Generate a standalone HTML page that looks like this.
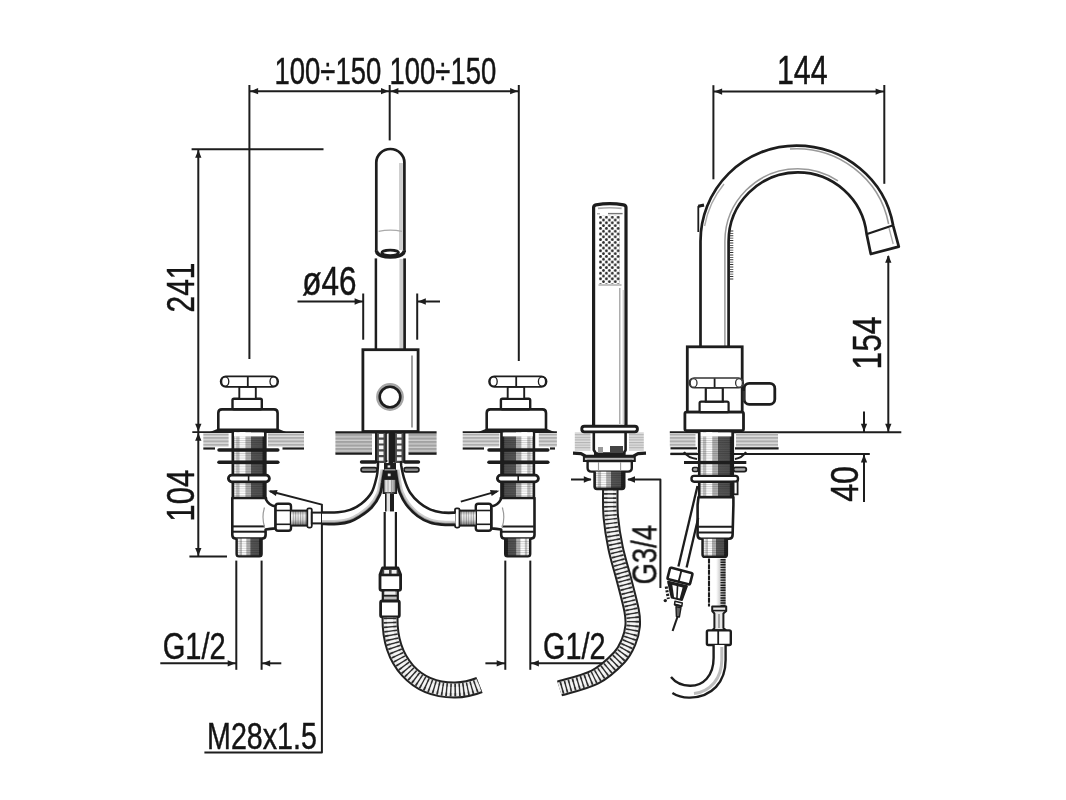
<!DOCTYPE html>
<html lang="en"><head><meta charset="utf-8"><title>Bath mixer technical drawing</title>
<style>
html,body{margin:0;padding:0;background:#fff;}
body{width:1066px;height:800px;overflow:hidden;}
svg{display:block;}
svg text{font-family:"Liberation Sans",sans-serif;fill:#141414;stroke:#141414;stroke-width:0.45px;}
</style></head><body>
<svg width="1066" height="800" viewBox="0 0 1066 800">
<rect width="1066" height="800" fill="#fff"/>

<defs>
<pattern id="thrv" width="2.4" height="4" patternUnits="userSpaceOnUse">
  <rect x="0" width="1" height="4" fill="#000" fill-opacity="0.3"/>
</pattern>
<pattern id="thr2" width="4" height="4.4" patternUnits="userSpaceOnUse">
  <rect y="0" width="4" height="2" fill="#000" fill-opacity="0.45"/>
</pattern>
</defs>


<defs>
<pattern id="hatch" width="4" height="3.4" patternUnits="userSpaceOnUse" patternTransform="translate(0,433.6)">
  <rect width="4" height="3.4" fill="#dedede"/>
  <rect y="0" width="4" height="2" fill="#aeaeae"/>
</pattern>
<pattern id="hatchD" width="4" height="3.5" patternUnits="userSpaceOnUse" patternTransform="translate(0,434)">
  <rect width="4" height="3.5" fill="#cfcfcf"/>
  <rect y="0" width="4" height="2.2" fill="#a2a2a2"/>
</pattern>
<pattern id="hatchL" width="4" height="2.6" patternUnits="userSpaceOnUse">
  <rect width="4" height="2.6" fill="#dcdcdc"/>
  <rect y="0" width="4" height="1.1" fill="#b4b4b4"/>
</pattern>
<pattern id="thr" width="4" height="2.2" patternUnits="userSpaceOnUse">
  <rect y="0" width="4" height="0.9" fill="#000" fill-opacity="0.2"/>
</pattern>
<pattern id="dots" width="5.9" height="5.6" patternUnits="userSpaceOnUse" patternTransform="translate(599,215.8)">
  <rect width="5.9" height="5.6" fill="#fff"/>
  <circle cx="1.5" cy="1.4" r="1.42" fill="#2a2a2a"/>
  <circle cx="4.45" cy="4.2" r="1.42" fill="#2a2a2a"/>
</pattern>
<linearGradient id="stemL" x1="0" x2="1" y1="0" y2="0">
  <stop offset="0" stop-color="#444"/><stop offset="0.07" stop-color="#f0f0f0"/>
  <stop offset="0.12" stop-color="#efefef"/><stop offset="0.14" stop-color="#c2c2c2"/>
  <stop offset="0.21" stop-color="#c2c2c2"/><stop offset="0.24" stop-color="#fff"/>
  <stop offset="0.38" stop-color="#fff"/><stop offset="0.41" stop-color="#b2b2b2"/>
  <stop offset="0.545" stop-color="#b2b2b2"/><stop offset="0.565" stop-color="#565656"/>
  <stop offset="0.88" stop-color="#505050"/><stop offset="0.9" stop-color="#222"/>
  <stop offset="1" stop-color="#222"/>
</linearGradient>
<linearGradient id="stemR" x1="1" x2="0" y1="0" y2="0">
  <stop offset="0" stop-color="#444"/><stop offset="0.07" stop-color="#f0f0f0"/>
  <stop offset="0.12" stop-color="#efefef"/><stop offset="0.14" stop-color="#c2c2c2"/>
  <stop offset="0.21" stop-color="#c2c2c2"/><stop offset="0.24" stop-color="#fff"/>
  <stop offset="0.38" stop-color="#fff"/><stop offset="0.41" stop-color="#b2b2b2"/>
  <stop offset="0.545" stop-color="#b2b2b2"/><stop offset="0.565" stop-color="#565656"/>
  <stop offset="0.88" stop-color="#505050"/><stop offset="0.9" stop-color="#222"/>
  <stop offset="1" stop-color="#222"/>
</linearGradient>
<linearGradient id="braid" x1="0" x2="1" y1="0" y2="0"><stop offset="0" stop-color="#fff"/><stop offset="0.45" stop-color="#fff"/><stop offset="0.8" stop-color="#b5b5b5"/><stop offset="1" stop-color="#888"/></linearGradient>
<linearGradient id="cyl" x1="0" x2="1" y1="0" y2="0">
  <stop offset="0" stop-color="#999"/><stop offset="0.3" stop-color="#f4f4f4"/>
  <stop offset="0.6" stop-color="#ddd"/><stop offset="1" stop-color="#666"/>
</linearGradient>
<linearGradient id="cylv" x1="0" x2="0" y1="0" y2="1">
  <stop offset="0" stop-color="#999"/><stop offset="0.3" stop-color="#f4f4f4"/>
  <stop offset="0.6" stop-color="#ddd"/><stop offset="1" stop-color="#777"/>
</linearGradient>
</defs>

<line x1="249.4" y1="85" x2="249.4" y2="359" stroke="#1d1d1d" stroke-width="2.0" stroke-linecap="butt" />
<line x1="389.7" y1="85" x2="389.7" y2="140.4" stroke="#1d1d1d" stroke-width="2.0" stroke-linecap="butt" />
<line x1="518.8" y1="85" x2="518.8" y2="361" stroke="#1d1d1d" stroke-width="2.0" stroke-linecap="butt" />
<line x1="249.4" y1="91.2" x2="518.8" y2="91.2" stroke="#1d1d1d" stroke-width="2.0" stroke-linecap="butt" />
<polygon points="250.3,91.2 258.1,88.05 258.1,94.35000000000001" fill="#1d1d1d"/>
<polygon points="388.8,91.2 381.0,88.05 381.0,94.35000000000001" fill="#1d1d1d"/>
<polygon points="390.6,91.2 398.40000000000003,88.05 398.40000000000003,94.35000000000001" fill="#1d1d1d"/>
<polygon points="517.9,91.2 510.09999999999997,88.05 510.09999999999997,94.35000000000001" fill="#1d1d1d"/>
<line x1="191.6" y1="149.2" x2="323.5" y2="149.2" stroke="#1d1d1d" stroke-width="2.0" stroke-linecap="butt" />
<line x1="198.3" y1="149.2" x2="198.3" y2="556.5" stroke="#1d1d1d" stroke-width="2.0" stroke-linecap="butt" />
<polygon points="198.3,150 195.15,157.8 201.45000000000002,157.8" fill="#1d1d1d"/>
<polygon points="198.3,431.6 195.15,423.8 201.45000000000002,423.8" fill="#1d1d1d"/>
<polygon points="198.3,433 195.15,440.8 201.45000000000002,440.8" fill="#1d1d1d"/>
<polygon points="198.3,555.8 195.15,548.0 201.45000000000002,548.0" fill="#1d1d1d"/>
<line x1="189.4" y1="556.5" x2="227" y2="556.5" stroke="#1d1d1d" stroke-width="2.0" stroke-linecap="butt" />
<line x1="297.5" y1="301.5" x2="363.2" y2="301.5" stroke="#1d1d1d" stroke-width="2.0" stroke-linecap="butt" />
<polygon points="362.4,301.5 354.59999999999997,298.35 354.59999999999997,304.65" fill="#1d1d1d"/>
<line x1="363.2" y1="293.5" x2="363.2" y2="339.7" stroke="#1d1d1d" stroke-width="2.0" stroke-linecap="butt" />
<line x1="417.2" y1="293.5" x2="417.2" y2="339.7" stroke="#1d1d1d" stroke-width="2.0" stroke-linecap="butt" />
<line x1="417.2" y1="301.5" x2="440" y2="301.5" stroke="#1d1d1d" stroke-width="2.0" stroke-linecap="butt" />
<polygon points="418,301.5 425.8,298.35 425.8,304.65" fill="#1d1d1d"/>
<line x1="236.3" y1="560.6" x2="236.3" y2="669.8" stroke="#1d1d1d" stroke-width="2.0" stroke-linecap="butt" />
<line x1="261.6" y1="560.6" x2="261.6" y2="669.8" stroke="#1d1d1d" stroke-width="2.0" stroke-linecap="butt" />
<line x1="160.3" y1="663.3" x2="236.3" y2="663.3" stroke="#1d1d1d" stroke-width="2.0" stroke-linecap="butt" />
<polygon points="235.5,663.3 227.7,660.15 227.7,666.4499999999999" fill="#1d1d1d"/>
<line x1="261.6" y1="663.3" x2="281.3" y2="663.3" stroke="#1d1d1d" stroke-width="2.0" stroke-linecap="butt" />
<polygon points="262.4,663.3 270.2,660.15 270.2,666.4499999999999" fill="#1d1d1d"/>
<path d="M270,491.2 L321.9,504.6 L321.9,752.5 L204.4,752.5" stroke="#1d1d1d" stroke-width="2.0" fill="none" stroke-linejoin="round" />
<polygon points="268.2,490.7 277.6,489.9 275.9,496" fill="#1d1d1d"/>
<line x1="460.8" y1="501.6" x2="497" y2="491.4" stroke="#1d1d1d" stroke-width="2.0" stroke-linecap="butt" />
<polygon points="499.4,490.7 491.7,496 490,489.9" fill="#1d1d1d"/>
<line x1="505.3" y1="560.6" x2="505.3" y2="669.8" stroke="#1d1d1d" stroke-width="2.0" stroke-linecap="butt" />
<line x1="530.3" y1="560.6" x2="530.3" y2="669.8" stroke="#1d1d1d" stroke-width="2.0" stroke-linecap="butt" />
<line x1="485.4" y1="663.3" x2="505.3" y2="663.3" stroke="#1d1d1d" stroke-width="2.0" stroke-linecap="butt" />
<polygon points="504.5,663.3 496.7,660.15 496.7,666.4499999999999" fill="#1d1d1d"/>
<line x1="530.3" y1="663.3" x2="604.6" y2="663.3" stroke="#1d1d1d" stroke-width="2.0" stroke-linecap="butt" />
<polygon points="531.1,663.3 538.9,660.15 538.9,666.4499999999999" fill="#1d1d1d"/>
<line x1="571" y1="479.5" x2="591" y2="479.5" stroke="#1d1d1d" stroke-width="2.0" stroke-linecap="butt" />
<polygon points="591.6,479.5 583.8000000000001,476.35 583.8000000000001,482.65" fill="#1d1d1d"/>
<path d="M628,479.5 L660.4,479.5 L660.4,588" stroke="#1d1d1d" stroke-width="2.0" fill="none" stroke-linejoin="round" />
<polygon points="627.2,479.5 635.0,476.35 635.0,482.65" fill="#1d1d1d"/>
<line x1="713.4" y1="85.2" x2="713.4" y2="179.3" stroke="#1d1d1d" stroke-width="2.0" stroke-linecap="butt" />
<line x1="884.3" y1="85" x2="884.3" y2="183.8" stroke="#1d1d1d" stroke-width="2.0" stroke-linecap="butt" />
<line x1="713.4" y1="91.6" x2="884.3" y2="91.6" stroke="#1d1d1d" stroke-width="2.0" stroke-linecap="butt" />
<polygon points="714.3,91.6 722.0999999999999,88.44999999999999 722.0999999999999,94.75" fill="#1d1d1d"/>
<polygon points="883.4,91.6 875.6,88.44999999999999 875.6,94.75" fill="#1d1d1d"/>
<line x1="888.3" y1="256" x2="888.3" y2="432" stroke="#1d1d1d" stroke-width="2.0" stroke-linecap="butt" />
<polygon points="888.3,255 885.15,262.8 891.4499999999999,262.8" fill="#1d1d1d"/>
<polygon points="888.3,431.6 885.15,423.8 891.4499999999999,423.8" fill="#1d1d1d"/>
<line x1="669.8" y1="432.3" x2="901.3" y2="432.3" stroke="#1d1d1d" stroke-width="2.0" stroke-linecap="butt" />
<line x1="864" y1="411.5" x2="864" y2="432" stroke="#1d1d1d" stroke-width="2.0" stroke-linecap="butt" />
<polygon points="864,431.6 860.85,423.8 867.15,423.8" fill="#1d1d1d"/>
<line x1="670.5" y1="453.9" x2="869.8" y2="453.9" stroke="#1d1d1d" stroke-width="2.0" stroke-linecap="butt" />
<line x1="864" y1="454" x2="864" y2="502" stroke="#1d1d1d" stroke-width="2.0" stroke-linecap="butt" />
<polygon points="864,454.6 860.85,462.40000000000003 867.15,462.40000000000003" fill="#1d1d1d"/>
<rect x="203.3" y="433.2" width="25.3" height="13.6" rx="0" stroke="#1d1d1d" stroke-width="0" fill="url(#hatch)" />
<rect x="268" y="433.2" width="36" height="13.6" rx="0" stroke="#1d1d1d" stroke-width="0" fill="url(#hatch)" />
<line x1="192.3" y1="432.2" x2="304" y2="432.2" stroke="#1d1d1d" stroke-width="1.8" stroke-linecap="butt" />
<line x1="203.3" y1="448.5" x2="215" y2="448.5" stroke="#1d1d1d" stroke-width="2.2" stroke-linecap="butt" />
<line x1="282.5" y1="448.5" x2="304" y2="448.5" stroke="#1d1d1d" stroke-width="2.2" stroke-linecap="butt" />
<rect x="335.4" y="433.2" width="36.6" height="19.6" rx="0" stroke="#1d1d1d" stroke-width="0" fill="url(#hatchD)" />
<rect x="408.5" y="433.2" width="28.1" height="19.6" rx="0" stroke="#1d1d1d" stroke-width="0" fill="url(#hatchD)" />
<line x1="335.4" y1="432.3" x2="436.6" y2="432.3" stroke="#1d1d1d" stroke-width="2.2" stroke-linecap="butt" />
<line x1="335.4" y1="453.6" x2="372" y2="453.6" stroke="#1d1d1d" stroke-width="2.4" stroke-linecap="butt" />
<line x1="408.5" y1="453.6" x2="436.6" y2="453.6" stroke="#1d1d1d" stroke-width="2.4" stroke-linecap="butt" />
<rect x="462.7" y="433.2" width="36.6" height="13.6" rx="0" stroke="#1d1d1d" stroke-width="0" fill="url(#hatch)" />
<rect x="538.8" y="433.2" width="18.1" height="13.6" rx="0" stroke="#1d1d1d" stroke-width="0" fill="url(#hatch)" />
<line x1="462.7" y1="432.2" x2="556.9" y2="432.2" stroke="#1d1d1d" stroke-width="1.8" stroke-linecap="butt" />
<line x1="462.7" y1="448.5" x2="484" y2="448.5" stroke="#1d1d1d" stroke-width="2.2" stroke-linecap="butt" />
<line x1="550" y1="448.5" x2="555" y2="448.5" stroke="#1d1d1d" stroke-width="2.2" stroke-linecap="butt" />
<g>
<rect x="231.8" y="431" width="34.5" height="66.8" rx="0" stroke="#1d1d1d" stroke-width="0" fill="url(#stemL)" />
<rect x="233" y="431" width="32" height="66.8" rx="0" stroke="#1d1d1d" stroke-width="0" fill="url(#thr)" />
<line x1="232.9" y1="431" x2="232.9" y2="498" stroke="#1d1d1d" stroke-width="2.6" stroke-linecap="butt" />
<line x1="265.2" y1="431" x2="265.2" y2="498" stroke="#1d1d1d" stroke-width="2.6" stroke-linecap="butt" />
<rect x="234" y="432.5" width="30" height="3.9" rx="0" stroke="#1d1d1d" stroke-width="0" fill="#fff" />
<line x1="219" y1="449.9" x2="277.8" y2="449.9" stroke="#1d1d1d" stroke-width="3.5" stroke-linecap="round" />
<line x1="219" y1="462.3" x2="277.8" y2="462.3" stroke="#1d1d1d" stroke-width="3.6" stroke-linecap="round" />
<rect x="228.4" y="475.2" width="41.0" height="6.6" rx="3.2" stroke="#1d1d1d" stroke-width="2.8" fill="#fff" />
<line x1="248.6" y1="475.5" x2="248.6" y2="481.6" stroke="#1d1d1d" stroke-width="1.6" stroke-linecap="butt" />
<path d="M232.3,498 L232.3,535 Q232.3,538.6 236,538.6 L262,538.6 Q265.6,538.6 265.6,535 L265.6,529.5 Q270,528.8 275.5,528.4 L275.5,506.4 Q269,505.6 266,499.5 L266,498 Z" stroke="#1d1d1d" stroke-width="2.6" fill="#fff" stroke-linejoin="round" />
<line x1="233" y1="526.4" x2="265" y2="526.4" stroke="#1d1d1d" stroke-width="2" stroke-linecap="butt" />
<line x1="233" y1="531.7" x2="265" y2="531.7" stroke="#1d1d1d" stroke-width="2" stroke-linecap="butt" />
<path d="M264.5,507.5 Q261.5,517 264.5,527" stroke="#999" stroke-width="1.2" fill="none" stroke-linejoin="round" />
<rect x="275.6" y="503.8" width="15.4" height="27.0" rx="2.5" stroke="#1d1d1d" stroke-width="2.4" fill="#fff" />
<line x1="276" y1="510.5" x2="291" y2="510.5" stroke="#1d1d1d" stroke-width="1.6" stroke-linecap="butt" />
<line x1="276" y1="524.3" x2="291" y2="524.3" stroke="#1d1d1d" stroke-width="1.6" stroke-linecap="butt" />
<rect x="291" y="510.6" width="16.6" height="15.0" rx="0" stroke="#1d1d1d" stroke-width="0" fill="url(#cylv)" />
<rect x="292" y="510.6" width="15" height="15" fill="url(#thrv)"/>
<line x1="291" y1="510.6" x2="308" y2="510.6" stroke="#1d1d1d" stroke-width="2" stroke-linecap="butt" />
<line x1="291" y1="525.6" x2="308" y2="525.6" stroke="#1d1d1d" stroke-width="2" stroke-linecap="butt" />
<rect x="307.3" y="508.3" width="4.5" height="19.3" rx="1.5" stroke="#1d1d1d" stroke-width="1.8" fill="#fff" />
<rect x="311.8" y="512.6" width="10.2" height="10.8" rx="0" stroke="#1d1d1d" stroke-width="2" fill="#fff" />
<rect x="236.3" y="538.6" width="25.5" height="17.6" rx="0" stroke="#1d1d1d" stroke-width="0" fill="url(#stemL)" />
<rect x="237" y="540" width="24" height="16" rx="0" stroke="#1d1d1d" stroke-width="0" fill="url(#thr)" />
<path d="M236.6,538.6 L236.6,554 Q236.6,556.4 239,556.4 L259.4,556.4 Q261.6,556.4 261.6,554 L261.6,538.6" stroke="#1d1d1d" stroke-width="2.4" fill="none" stroke-linejoin="round" />
</g>
<g>
<path d="M218.3,429.8 L218.3,413 Q218.3,409.4 222,409.4 L274,409.4 Q277.6,409.4 277.6,413 L277.6,429.8 Z" stroke="#1d1d1d" stroke-width="2.6" fill="#fff" stroke-linejoin="round" />
<polygon points="208,432.8 218.5,428.6 218.5,432.8" fill="#1d1d1d"/>
<polygon points="288,432.8 277.4,428.6 277.4,432.8" fill="#1d1d1d"/>
<line x1="218" y1="430.6" x2="278" y2="430.6" stroke="#1d1d1d" stroke-width="2.6" stroke-linecap="butt" />
<rect x="232.5" y="398.8" width="29.3" height="10.5" rx="1.5" stroke="#1d1d1d" stroke-width="2.4" fill="#fff" />
<rect x="239.3" y="386.8" width="16.5" height="12.0" rx="0" stroke="#1d1d1d" stroke-width="1.9" fill="#fff" />
<rect x="220.6" y="376.3" width="57.6" height="10.5" rx="5.2" stroke="#1d1d1d" stroke-width="1.7" fill="#fff" />
<ellipse cx="225.2" cy="381.5" rx="3.6" ry="4.7" fill="none" stroke="#1d1d1d" stroke-width="1.3"/>
<ellipse cx="273.6" cy="381.5" rx="3.6" ry="4.7" fill="none" stroke="#1d1d1d" stroke-width="1.3"/>
<line x1="247.8" y1="376.8" x2="247.8" y2="386.4" stroke="#1d1d1d" stroke-width="1.8" stroke-linecap="butt" />
</g>
<g transform="translate(766.8,0) scale(-1,1)">
<rect x="231.8" y="431" width="34.5" height="66.8" rx="0" stroke="#1d1d1d" stroke-width="0" fill="url(#stemL)" />
<rect x="233" y="431" width="32" height="66.8" rx="0" stroke="#1d1d1d" stroke-width="0" fill="url(#thr)" />
<line x1="232.9" y1="431" x2="232.9" y2="498" stroke="#1d1d1d" stroke-width="2.6" stroke-linecap="butt" />
<line x1="265.2" y1="431" x2="265.2" y2="498" stroke="#1d1d1d" stroke-width="2.6" stroke-linecap="butt" />
<rect x="234" y="432.5" width="30" height="3.9" rx="0" stroke="#1d1d1d" stroke-width="0" fill="#fff" />
<line x1="219" y1="449.9" x2="277.8" y2="449.9" stroke="#1d1d1d" stroke-width="3.5" stroke-linecap="round" />
<line x1="219" y1="462.3" x2="277.8" y2="462.3" stroke="#1d1d1d" stroke-width="3.6" stroke-linecap="round" />
<rect x="228.4" y="475.2" width="41.0" height="6.6" rx="3.2" stroke="#1d1d1d" stroke-width="2.8" fill="#fff" />
<line x1="248.6" y1="475.5" x2="248.6" y2="481.6" stroke="#1d1d1d" stroke-width="1.6" stroke-linecap="butt" />
<path d="M232.3,498 L232.3,535 Q232.3,538.6 236,538.6 L262,538.6 Q265.6,538.6 265.6,535 L265.6,529.5 Q270,528.8 275.5,528.4 L275.5,506.4 Q269,505.6 266,499.5 L266,498 Z" stroke="#1d1d1d" stroke-width="2.6" fill="#fff" stroke-linejoin="round" />
<line x1="233" y1="526.4" x2="265" y2="526.4" stroke="#1d1d1d" stroke-width="2" stroke-linecap="butt" />
<line x1="233" y1="531.7" x2="265" y2="531.7" stroke="#1d1d1d" stroke-width="2" stroke-linecap="butt" />
<path d="M264.5,507.5 Q261.5,517 264.5,527" stroke="#999" stroke-width="1.2" fill="none" stroke-linejoin="round" />
<rect x="275.6" y="503.8" width="15.4" height="27.0" rx="2.5" stroke="#1d1d1d" stroke-width="2.4" fill="#fff" />
<line x1="276" y1="510.5" x2="291" y2="510.5" stroke="#1d1d1d" stroke-width="1.6" stroke-linecap="butt" />
<line x1="276" y1="524.3" x2="291" y2="524.3" stroke="#1d1d1d" stroke-width="1.6" stroke-linecap="butt" />
<rect x="291" y="510.6" width="16.6" height="15.0" rx="0" stroke="#1d1d1d" stroke-width="0" fill="url(#cylv)" />
<rect x="292" y="510.6" width="15" height="15" fill="url(#thrv)"/>
<line x1="291" y1="510.6" x2="308" y2="510.6" stroke="#1d1d1d" stroke-width="2" stroke-linecap="butt" />
<line x1="291" y1="525.6" x2="308" y2="525.6" stroke="#1d1d1d" stroke-width="2" stroke-linecap="butt" />
<rect x="307.3" y="508.3" width="4.5" height="19.3" rx="1.5" stroke="#1d1d1d" stroke-width="1.8" fill="#fff" />
<rect x="311.8" y="512.6" width="10.2" height="10.8" rx="0" stroke="#1d1d1d" stroke-width="2" fill="#fff" />
<rect x="236.3" y="538.6" width="25.5" height="17.6" rx="0" stroke="#1d1d1d" stroke-width="0" fill="url(#stemL)" />
<rect x="237" y="540" width="24" height="16" rx="0" stroke="#1d1d1d" stroke-width="0" fill="url(#thr)" />
<path d="M236.6,538.6 L236.6,554 Q236.6,556.4 239,556.4 L259.4,556.4 Q261.6,556.4 261.6,554 L261.6,538.6" stroke="#1d1d1d" stroke-width="2.4" fill="none" stroke-linejoin="round" />
</g>
<g transform="translate(268.4,0)">
<path d="M218.3,429.8 L218.3,413 Q218.3,409.4 222,409.4 L274,409.4 Q277.6,409.4 277.6,413 L277.6,429.8 Z" stroke="#1d1d1d" stroke-width="2.6" fill="#fff" stroke-linejoin="round" />
<polygon points="208,432.8 218.5,428.6 218.5,432.8" fill="#1d1d1d"/>
<polygon points="288,432.8 277.4,428.6 277.4,432.8" fill="#1d1d1d"/>
<line x1="218" y1="430.6" x2="278" y2="430.6" stroke="#1d1d1d" stroke-width="2.6" stroke-linecap="butt" />
<rect x="232.5" y="398.8" width="29.3" height="10.5" rx="1.5" stroke="#1d1d1d" stroke-width="2.4" fill="#fff" />
<rect x="239.3" y="386.8" width="16.5" height="12.0" rx="0" stroke="#1d1d1d" stroke-width="1.9" fill="#fff" />
<rect x="220.6" y="376.3" width="57.6" height="10.5" rx="5.2" stroke="#1d1d1d" stroke-width="1.7" fill="#fff" />
<ellipse cx="225.2" cy="381.5" rx="3.6" ry="4.7" fill="none" stroke="#1d1d1d" stroke-width="1.3"/>
<ellipse cx="273.6" cy="381.5" rx="3.6" ry="4.7" fill="none" stroke="#1d1d1d" stroke-width="1.3"/>
<line x1="247.8" y1="376.8" x2="247.8" y2="386.4" stroke="#1d1d1d" stroke-width="1.8" stroke-linecap="butt" />
</g>
<rect x="376" y="432.5" width="10.4" height="30.5" rx="0" stroke="#1d1d1d" stroke-width="0" fill="#4a4a4a" />
<path d="M381.2,434 L381.2,462" stroke="#f6f6f6" stroke-width="4.6" stroke-dasharray="3.6 2.2" fill="none"/>
<line x1="376" y1="432.5" x2="376" y2="462" stroke="#1d1d1d" stroke-width="2" stroke-linecap="butt" />
<line x1="386.4" y1="432.5" x2="386.4" y2="462" stroke="#1d1d1d" stroke-width="2" stroke-linecap="butt" />
<rect x="394" y="432.5" width="10.4" height="30.5" rx="0" stroke="#1d1d1d" stroke-width="0" fill="#4a4a4a" />
<path d="M399.2,434 L399.2,462" stroke="#f6f6f6" stroke-width="4.6" stroke-dasharray="3.6 2.2" fill="none"/>
<line x1="394" y1="432.5" x2="394" y2="462" stroke="#1d1d1d" stroke-width="2" stroke-linecap="butt" />
<line x1="404.4" y1="432.5" x2="404.4" y2="462" stroke="#1d1d1d" stroke-width="2" stroke-linecap="butt" />
<rect x="388.6" y="432.5" width="5.0" height="41.5" rx="0" stroke="#1d1d1d" stroke-width="0" fill="#1d1d1d" />
<line x1="387.4" y1="434" x2="387.4" y2="460" stroke="#eee" stroke-width="1.1" stroke-linecap="butt" />
<line x1="361.5" y1="462" x2="375.5" y2="462" stroke="#1d1d1d" stroke-width="3.4" stroke-linecap="round" />
<line x1="405" y1="462" x2="418.5" y2="462" stroke="#1d1d1d" stroke-width="3.4" stroke-linecap="round" />
<rect x="361" y="467.6" width="16" height="4.3" rx="2.1" stroke="#1d1d1d" stroke-width="1.6" fill="#8a8a8a" />
<rect x="404" y="467.6" width="15" height="4.3" rx="2.1" stroke="#1d1d1d" stroke-width="1.6" fill="#8a8a8a" />
<line x1="377" y1="469.7" x2="404" y2="469.7" stroke="#888" stroke-width="1.2" stroke-linecap="butt" />
<clipPath id="tcl"><path d="M378.1,461 C378.1,461.8 378.1,463.4 377.9,466 C377.7,468.6 377.8,472.2 376.7,476.6 C375.6,481.0 374.2,488.0 371.6,492.5 C369.0,497.0 364.9,500.9 361.3,503.8 C357.7,506.7 353.9,508.5 350,509.9 C346.1,511.3 342.7,511.9 338,512.3 C333.3,512.7 324.7,512.5 322,512.5 L322,524 C324.7,524.0 333.3,524.2 338,523.8 C342.7,523.4 346.4,522.8 350,521.6 C353.6,520.5 355.8,519.2 359.4,516.9 C363.0,514.5 368.2,511.2 371.6,507.5 C375.0,503.8 378.2,498.6 380,494.4 C381.8,490.2 381.6,486.3 382.4,482.2 C383.1,478.1 384.1,472.0 384.5,470 Z"/></clipPath>
<path d="M378.1,461 C378.1,461.8 378.1,463.4 377.9,466 C377.7,468.6 377.8,472.2 376.7,476.6 C375.6,481.0 374.2,488.0 371.6,492.5 C369.0,497.0 364.9,500.9 361.3,503.8 C357.7,506.7 353.9,508.5 350,509.9 C346.1,511.3 342.7,511.9 338,512.3 C333.3,512.7 324.7,512.5 322,512.5 L322,524 C324.7,524.0 333.3,524.2 338,523.8 C342.7,523.4 346.4,522.8 350,521.6 C353.6,520.5 355.8,519.2 359.4,516.9 C363.0,514.5 368.2,511.2 371.6,507.5 C375.0,503.8 378.2,498.6 380,494.4 C381.8,490.2 381.6,486.3 382.4,482.2 C383.1,478.1 384.1,472.0 384.5,470 Z" fill="#fff" stroke="none"/>
<g clip-path="url(#tcl)"><path d="M384.5,470 C384.1,472.0 383.1,478.1 382.4,482.2 C381.6,486.3 381.8,490.2 380,494.4 C378.2,498.6 375.0,503.8 371.6,507.5 C368.2,511.2 363.0,514.5 359.4,516.9 C355.8,519.2 353.6,520.5 350,521.6 C346.4,522.8 342.7,523.4 338,523.8 C333.3,524.2 324.7,524.0 322,524" fill="none" stroke="#cdcdcd" stroke-width="8"/><path d="M384.5,470 C384.1,472.0 383.1,478.1 382.4,482.2 C381.6,486.3 381.8,490.2 380,494.4 C378.2,498.6 375.0,503.8 371.6,507.5 C368.2,511.2 363.0,514.5 359.4,516.9 C355.8,519.2 353.6,520.5 350,521.6 C346.4,522.8 342.7,523.4 338,523.8 C333.3,524.2 324.7,524.0 322,524" fill="none" stroke="#969696" stroke-width="4.4"/></g>
<path d="M378.1,461 C378.1,461.8 378.1,463.4 377.9,466 C377.7,468.6 377.8,472.2 376.7,476.6 C375.6,481.0 374.2,488.0 371.6,492.5 C369.0,497.0 364.9,500.9 361.3,503.8 C357.7,506.7 353.9,508.5 350,509.9 C346.1,511.3 342.7,511.9 338,512.3 C333.3,512.7 324.7,512.5 322,512.5" stroke="#1d1d1d" stroke-width="2.5" fill="none" stroke-linejoin="round" />
<path d="M384.5,470 C384.1,472.0 383.1,478.1 382.4,482.2 C381.6,486.3 381.8,490.2 380,494.4 C378.2,498.6 375.0,503.8 371.6,507.5 C368.2,511.2 363.0,514.5 359.4,516.9 C355.8,519.2 353.6,520.5 350,521.6 C346.4,522.8 342.7,523.4 338,523.8 C333.3,524.2 324.7,524.0 322,524" stroke="#1d1d1d" stroke-width="2.7" fill="none" stroke-linejoin="round" />
<clipPath id="tcr"><path d="M401.1,461 C401.1,461.8 400.8,462.9 401.3,466 C401.9,469.1 402.9,475.0 404.4,479.4 C405.8,483.8 407.5,488.6 410,492.5 C412.5,496.4 416.1,500.0 419.4,502.8 C422.7,505.6 426.2,507.8 430,509.4 C433.8,511.0 437.8,512.0 442,512.6 C446.2,513.2 453.2,512.8 455.5,512.8 L455.5,524.8 C453.2,524.8 446.2,525.0 442,524.6 C437.8,524.2 434.1,523.9 430,522.5 C425.9,521.1 421.4,519.0 417.5,516 C413.6,513.0 409.3,508.6 406.3,504.7 C403.3,500.8 401.2,496.2 399.7,492.5 C398.2,488.8 398.1,485.9 397.4,482.2 C396.7,478.4 395.8,472.0 395.5,470 Z"/></clipPath>
<path d="M401.1,461 C401.1,461.8 400.8,462.9 401.3,466 C401.9,469.1 402.9,475.0 404.4,479.4 C405.8,483.8 407.5,488.6 410,492.5 C412.5,496.4 416.1,500.0 419.4,502.8 C422.7,505.6 426.2,507.8 430,509.4 C433.8,511.0 437.8,512.0 442,512.6 C446.2,513.2 453.2,512.8 455.5,512.8 L455.5,524.8 C453.2,524.8 446.2,525.0 442,524.6 C437.8,524.2 434.1,523.9 430,522.5 C425.9,521.1 421.4,519.0 417.5,516 C413.6,513.0 409.3,508.6 406.3,504.7 C403.3,500.8 401.2,496.2 399.7,492.5 C398.2,488.8 398.1,485.9 397.4,482.2 C396.7,478.4 395.8,472.0 395.5,470 Z" fill="#fff" stroke="none"/>
<g clip-path="url(#tcr)"><path d="M395.5,470 C395.8,472.0 396.7,478.4 397.4,482.2 C398.1,485.9 398.2,488.8 399.7,492.5 C401.2,496.2 403.3,500.8 406.3,504.7 C409.3,508.6 413.6,513.0 417.5,516 C421.4,519.0 425.9,521.1 430,522.5 C434.1,523.9 437.8,524.2 442,524.6 C446.2,525.0 453.2,524.8 455.5,524.8" fill="none" stroke="#cdcdcd" stroke-width="8"/><path d="M395.5,470 C395.8,472.0 396.7,478.4 397.4,482.2 C398.1,485.9 398.2,488.8 399.7,492.5 C401.2,496.2 403.3,500.8 406.3,504.7 C409.3,508.6 413.6,513.0 417.5,516 C421.4,519.0 425.9,521.1 430,522.5 C434.1,523.9 437.8,524.2 442,524.6 C446.2,525.0 453.2,524.8 455.5,524.8" fill="none" stroke="#969696" stroke-width="4.4"/></g>
<path d="M401.1,461 C401.1,461.8 400.8,462.9 401.3,466 C401.9,469.1 402.9,475.0 404.4,479.4 C405.8,483.8 407.5,488.6 410,492.5 C412.5,496.4 416.1,500.0 419.4,502.8 C422.7,505.6 426.2,507.8 430,509.4 C433.8,511.0 437.8,512.0 442,512.6 C446.2,513.2 453.2,512.8 455.5,512.8" stroke="#1d1d1d" stroke-width="2.5" fill="none" stroke-linejoin="round" />
<path d="M395.5,470 C395.8,472.0 396.7,478.4 397.4,482.2 C398.1,485.9 398.2,488.8 399.7,492.5 C401.2,496.2 403.3,500.8 406.3,504.7 C409.3,508.6 413.6,513.0 417.5,516 C421.4,519.0 425.9,521.1 430,522.5 C434.1,523.9 437.8,524.2 442,524.6 C446.2,525.0 453.2,524.8 455.5,524.8" stroke="#1d1d1d" stroke-width="2.7" fill="none" stroke-linejoin="round" />
<rect x="384" y="463" width="12" height="16.5" rx="0" stroke="#1d1d1d" stroke-width="0" fill="#1d1d1d" />
<rect x="387.6" y="465.4" width="2.6" height="2.2" rx="0" stroke="#1d1d1d" stroke-width="0" fill="#eee" />
<rect x="387.8" y="473.6" width="2.8" height="2.6" rx="0" stroke="#1d1d1d" stroke-width="0" fill="#eee" />
<line x1="384.5" y1="469.8" x2="395.5" y2="469.8" stroke="#999" stroke-width="1.4" stroke-linecap="butt" />
<rect x="383.5" y="479" width="12.7" height="14.1" rx="0" stroke="#1d1d1d" stroke-width="1.8" fill="url(#cyl)" />
<line x1="388" y1="480" x2="388" y2="492.5" stroke="#999" stroke-width="1" stroke-linecap="butt" />
<line x1="391.6" y1="480" x2="391.6" y2="492.5" stroke="#999" stroke-width="1" stroke-linecap="butt" />
<rect x="385.6" y="493.3" width="8.2" height="18.1" rx="0" stroke="#1d1d1d" stroke-width="0" fill="#e2e2e2" />
<rect x="390" y="493.3" width="4" height="18.1" rx="0" stroke="#1d1d1d" stroke-width="0" fill="#1d1d1d" />
<line x1="385.8" y1="493.3" x2="385.8" y2="511.4" stroke="#1d1d1d" stroke-width="1.6" stroke-linecap="butt" />
<rect x="384.3" y="512" width="12.0" height="56" rx="0" stroke="#1d1d1d" stroke-width="0" fill="#fff" />
<line x1="384.7" y1="512" x2="384.7" y2="568" stroke="#1d1d1d" stroke-width="2.2" stroke-linecap="butt" />
<line x1="395.9" y1="512" x2="395.9" y2="568" stroke="#1d1d1d" stroke-width="2.2" stroke-linecap="butt" />
<path d="M382.5,568 L398,568 L400.6,574.5 L400.6,588.5 Q400.6,590.4 398.6,590.4 L382,590.4 Q380,590.4 380,588.5 L380,574.5 Z" stroke="#1d1d1d" stroke-width="2.8" fill="#fff" stroke-linejoin="round" />
<path d="M382.8,568.6 L397.8,568.6 L400,574.6 L380.6,574.6 Z" stroke="#1d1d1d" stroke-width="1.5" fill="#444" stroke-linejoin="round" />
<rect x="384.2" y="570" width="4.8" height="3.6" rx="0" stroke="#1d1d1d" stroke-width="0" fill="#f2f2f2" />
<rect x="391.6" y="570" width="5.0" height="3.6" rx="0" stroke="#1d1d1d" stroke-width="0" fill="#f2f2f2" />
<line x1="380" y1="575.2" x2="400.6" y2="575.2" stroke="#1d1d1d" stroke-width="2.2" stroke-linecap="butt" />
<rect x="382.8" y="590.4" width="15.0" height="10.6" rx="0" stroke="#1d1d1d" stroke-width="2.2" fill="#bdbdbd" />
<line x1="383" y1="595.7" x2="397.6" y2="595.7" stroke="#1d1d1d" stroke-width="1.8" stroke-linecap="butt" />
<rect x="385" y="591.6" width="10" height="2.8" rx="0" stroke="#1d1d1d" stroke-width="0" fill="#eee" />
<rect x="380.6" y="601" width="18.7" height="15.8" rx="1.5" stroke="#1d1d1d" stroke-width="2.8" fill="#fff" />
<path d="M376.3,252 L376.3,162.6 A14.05,13.6 0 0 1 404.4,162.6 L404.4,252" stroke="#1d1d1d" stroke-width="2.7" fill="#fff" stroke-linejoin="round" />
<rect x="399" y="163" width="3.9" height="87" rx="0" stroke="#1d1d1d" stroke-width="0" fill="#cfcfcf" />
<path d="M376.3,250.5 Q377,257 390.4,257 Q403.8,257 404.4,250.5" stroke="#1d1d1d" stroke-width="3.4" fill="#fff" stroke-linejoin="round" />
<ellipse cx="390.2" cy="252.8" rx="8.4" ry="2.7" fill="#fff" stroke="#1d1d1d" stroke-width="2.6"/>
<path d="M378.6,231.4 Q390.4,228.8 402,231.4" stroke="#aaa" stroke-width="1.4" fill="none" stroke-linejoin="round" />
<rect x="399.4" y="259" width="3.8" height="90" rx="0" stroke="#1d1d1d" stroke-width="0" fill="#cfcfcf" />
<line x1="375.9" y1="258.4" x2="375.9" y2="349.6" stroke="#1d1d1d" stroke-width="2.5" stroke-linecap="butt" />
<line x1="404.6" y1="258.4" x2="404.6" y2="349.6" stroke="#1d1d1d" stroke-width="2.7" stroke-linecap="butt" />
<rect x="362.9" y="349.7" width="55.2" height="81.8" rx="0" stroke="#1d1d1d" stroke-width="2.8" fill="#fff" />
<line x1="412" y1="355.5" x2="412" y2="427.5" stroke="#888" stroke-width="1.6" stroke-linecap="butt" />
<circle cx="390" cy="397" r="12.2" fill="none" stroke="#6a6a6a" stroke-opacity="0.6" stroke-width="3.4"/>
<circle cx="390" cy="397" r="10.3" fill="#fff" stroke="#1d1d1d" stroke-width="2.6"/>
<path d="M390,617.5 C389.5,662 416,690.5 455,690 C466,689.8 472,688 479.5,685" fill="none" stroke="#222" stroke-width="17"/>
<path d="M390,617.5 C389.5,662 416,690.5 455,690 C466,689.8 472,688 479.5,685" fill="none" stroke="#ececec" stroke-width="13"/>
<path d="M390,617.5 C389.5,662 416,690.5 455,690 C466,689.8 472,688 479.5,685" fill="none" stroke="#2e2e2e" stroke-width="13" stroke-dasharray="1.7 2.5"/>
<path d="M390,617.5 C389.5,662 416,690.5 455,690 C466,689.8 472,688 479.5,685" fill="none" stroke="#fff" stroke-opacity="0.5" stroke-width="6" stroke-dasharray="2.9 1.3" stroke-dashoffset="-1.5"/>
<path d="M610.3,489 C610.4,493.7 609.9,507.2 610.8,517 C611.7,526.8 613.4,537.6 615.6,548 C617.8,558.4 621.2,569.0 623.9,579.4 C626.6,589.8 630.1,602.8 631.6,610.6 C633.1,618.4 633.1,621.1 632.6,626.3 C632.1,631.5 630.8,636.7 628.6,641.9 C626.4,647.1 624.8,651.6 619.2,657.5 C613.6,663.4 605.0,671.8 595,677 C585.0,682.2 565.4,686.6 559.5,688.5" fill="none" stroke="#222" stroke-width="16.5"/>
<path d="M610.3,489 C610.4,493.7 609.9,507.2 610.8,517 C611.7,526.8 613.4,537.6 615.6,548 C617.8,558.4 621.2,569.0 623.9,579.4 C626.6,589.8 630.1,602.8 631.6,610.6 C633.1,618.4 633.1,621.1 632.6,626.3 C632.1,631.5 630.8,636.7 628.6,641.9 C626.4,647.1 624.8,651.6 619.2,657.5 C613.6,663.4 605.0,671.8 595,677 C585.0,682.2 565.4,686.6 559.5,688.5" fill="none" stroke="#ececec" stroke-width="12.5"/>
<path d="M610.3,489 C610.4,493.7 609.9,507.2 610.8,517 C611.7,526.8 613.4,537.6 615.6,548 C617.8,558.4 621.2,569.0 623.9,579.4 C626.6,589.8 630.1,602.8 631.6,610.6 C633.1,618.4 633.1,621.1 632.6,626.3 C632.1,631.5 630.8,636.7 628.6,641.9 C626.4,647.1 624.8,651.6 619.2,657.5 C613.6,663.4 605.0,671.8 595,677 C585.0,682.2 565.4,686.6 559.5,688.5" fill="none" stroke="#2e2e2e" stroke-width="12.5" stroke-dasharray="1.7 2.5"/>
<path d="M610.3,489 C610.4,493.7 609.9,507.2 610.8,517 C611.7,526.8 613.4,537.6 615.6,548 C617.8,558.4 621.2,569.0 623.9,579.4 C626.6,589.8 630.1,602.8 631.6,610.6 C633.1,618.4 633.1,621.1 632.6,626.3 C632.1,631.5 630.8,636.7 628.6,641.9 C626.4,647.1 624.8,651.6 619.2,657.5 C613.6,663.4 605.0,671.8 595,677 C585.0,682.2 565.4,686.6 559.5,688.5" fill="none" stroke="#fff" stroke-opacity="0.5" stroke-width="5.5" stroke-dasharray="2.9 1.3" stroke-dashoffset="-1.5"/>
<path d="M593.6,425.5 L593.6,207.6 Q593.6,205.2 596,204.8 Q609.8,202.4 623.6,204.8 Q626,205.2 626,207.6 L626,425.5" stroke="#1d1d1d" stroke-width="3.2" fill="#fff" stroke-linejoin="round" />
<rect x="599" y="215.8" width="21" height="67.8" rx="0" stroke="#1d1d1d" stroke-width="0" fill="url(#dots)" />
<line x1="598.5" y1="285" x2="621.5" y2="285" stroke="#999" stroke-width="1.2" stroke-linecap="butt" />
<path d="M598,208.4 Q609.8,207 621.6,208.4" stroke="#aaa" stroke-width="1.6" fill="none" stroke-linejoin="round" />
<line x1="608" y1="213.6" x2="622.6" y2="213.6" stroke="#777" stroke-width="1.4" stroke-linecap="butt" />
<line x1="597" y1="213.8" x2="600" y2="213.8" stroke="#999" stroke-width="1.2" stroke-linecap="butt" />
<line x1="619.8" y1="288" x2="619.8" y2="424" stroke="#999" stroke-width="1.2" stroke-linecap="butt" />
<line x1="623.2" y1="290" x2="623.2" y2="424" stroke="#bbb" stroke-width="1" stroke-linecap="butt" />
<rect x="574.8" y="432.5" width="15.7" height="18.1" rx="0" stroke="#1d1d1d" stroke-width="0" fill="url(#hatchL)" />
<rect x="629" y="432.5" width="14.8" height="18.1" rx="0" stroke="#1d1d1d" stroke-width="0" fill="url(#hatchL)" />
<path d="M593.8,432 L593.8,450 L596,453.5 L623.6,453.5 L625.6,450 L625.6,432" stroke="#1d1d1d" stroke-width="2.6" fill="#fff" stroke-linejoin="round" />
<rect x="598" y="447" width="5" height="6" rx="0" stroke="#1d1d1d" stroke-width="0" fill="#999" />
<rect x="610" y="446" width="13" height="7.4" rx="0" stroke="#1d1d1d" stroke-width="0" fill="#444" />
<rect x="581.8" y="426.2" width="55.6" height="5.7" rx="2.6" stroke="#1d1d1d" stroke-width="2.9" fill="#fff" />
<path d="M573,453.2 L581,453.6 L586,456.4 L633,456.4 L638,453.6 L646,453.2" stroke="#1d1d1d" stroke-width="3.2" fill="none" stroke-linejoin="round" />
<rect x="594" y="453" width="31.6" height="4" rx="0" stroke="#1d1d1d" stroke-width="0" fill="#1d1d1d" />
<rect x="583.9" y="456.8" width="50.9" height="4.2" rx="0" stroke="#1d1d1d" stroke-width="2" fill="#bbb" />
<path d="M587.6,461 L631.8,461 L631.8,468 Q631.8,471.6 628,471.6 L591.4,471.6 Q587.6,471.6 587.6,468 Z" stroke="#1d1d1d" stroke-width="2.4" fill="#fff" stroke-linejoin="round" />
<line x1="598.5" y1="462" x2="598.5" y2="470.6" stroke="#999" stroke-width="1.1" stroke-linecap="butt" />
<line x1="620.6" y1="462" x2="620.6" y2="470.6" stroke="#999" stroke-width="1.1" stroke-linecap="butt" />
<rect x="594.4" y="471.6" width="29.9" height="17.0" rx="0" stroke="#1d1d1d" stroke-width="0" fill="url(#stemL)" />
<rect x="595" y="472.5" width="29" height="15.5" rx="0" stroke="#1d1d1d" stroke-width="0" fill="url(#thr)" />
<path d="M594.6,471.6 L594.6,486.6 Q594.6,488.9 597,488.9 L622,488.9 Q624.2,488.9 624.2,486.6 L624.2,471.6" stroke="#1d1d1d" stroke-width="2.6" fill="none" stroke-linejoin="round" />
<rect x="669.8" y="433.2" width="25.7" height="13.6" rx="0" stroke="#1d1d1d" stroke-width="0" fill="url(#hatch)" />
<rect x="736" y="433.2" width="42" height="13.6" rx="0" stroke="#1d1d1d" stroke-width="0" fill="url(#hatch)" />
<rect x="698.3" y="431.5" width="35.3" height="65.8" rx="0" stroke="#1d1d1d" stroke-width="0" fill="url(#stemL)" />
<rect x="699" y="431.5" width="34" height="65.8" rx="0" stroke="#1d1d1d" stroke-width="0" fill="url(#thr)" />
<rect x="700.4" y="432.5" width="31.2" height="3.9" rx="0" stroke="#1d1d1d" stroke-width="0" fill="#fff" />
<line x1="699.2" y1="431.5" x2="699.2" y2="497.5" stroke="#1d1d1d" stroke-width="2.6" stroke-linecap="butt" />
<line x1="732.8" y1="431.5" x2="732.8" y2="497.5" stroke="#1d1d1d" stroke-width="2.6" stroke-linecap="butt" />
<line x1="670.5" y1="448.3" x2="697" y2="448.3" stroke="#1d1d1d" stroke-width="2.2" stroke-linecap="butt" />
<line x1="735" y1="448.3" x2="778.6" y2="448.3" stroke="#1d1d1d" stroke-width="2.2" stroke-linecap="butt" />
<line x1="670.5" y1="453.9" x2="697" y2="453.9" stroke="#1d1d1d" stroke-width="2.4" stroke-linecap="butt" />
<path d="M684,452 Q688,458 697,459" stroke="#1d1d1d" stroke-width="2.2" fill="none" stroke-linejoin="round" />
<path d="M746,452 Q742,458 735,459" stroke="#1d1d1d" stroke-width="2.2" fill="none" stroke-linejoin="round" />
<line x1="684" y1="462.5" x2="746.3" y2="462.5" stroke="#1d1d1d" stroke-width="3" stroke-linecap="butt" />
<rect x="733.5" y="467.4" width="12.8" height="4.2" rx="2" stroke="#1d1d1d" stroke-width="1.8" fill="#aaa" />
<rect x="692.5" y="467.6" width="5.5" height="3.8" rx="1.5" stroke="#1d1d1d" stroke-width="1.5" fill="#aaa" />
<rect x="691.5" y="475.9" width="46.5" height="5.8" rx="2.6" stroke="#1d1d1d" stroke-width="2.4" fill="#fff" />
<rect x="733.6" y="481.7" width="4.0" height="12.6" rx="0" stroke="#1d1d1d" stroke-width="1.8" fill="#fff" />
<path d="M698.4,497.3 L697.6,505 L697.6,535 Q697.6,538.7 701,538.7 L729,538.7 Q732.6,538.7 732.6,535 L733.4,505 L733.4,497.3 Z" stroke="#1d1d1d" stroke-width="2.6" fill="#fff" stroke-linejoin="round" />
<line x1="698.4" y1="526.7" x2="732.4" y2="526.7" stroke="#1d1d1d" stroke-width="2" stroke-linecap="butt" />
<line x1="698.4" y1="532.6" x2="732.4" y2="532.6" stroke="#1d1d1d" stroke-width="2" stroke-linecap="butt" />
<rect x="702.3" y="538.8" width="24.7" height="17.8" rx="0" stroke="#1d1d1d" stroke-width="0" fill="url(#stemL)" />
<rect x="703" y="540" width="23.5" height="16" rx="0" stroke="#1d1d1d" stroke-width="0" fill="url(#thr)" />
<path d="M702.5,538.8 L702.5,554.4 Q702.5,556.8 705,556.8 L724.6,556.8 Q726.9,556.8 726.9,554.4 L726.9,538.8" stroke="#1d1d1d" stroke-width="2.4" fill="none" stroke-linejoin="round" />
<rect x="708.4" y="558.6" width="17.2" height="47.8" rx="0" stroke="#1d1d1d" stroke-width="0" fill="url(#braid)" />
<line x1="709" y1="558.6" x2="709" y2="606.4" stroke="#1d1d1d" stroke-width="2.1" stroke-linecap="butt" stroke-dasharray="5 0.6"/>
<path d="M723,559 L723,606.4" stroke="#1d1d1d" stroke-width="5" stroke-dasharray="1.4 1.15" fill="none"/>
<path d="M712.2,606.4 L726.2,606.4 L726.2,611 L723.4,613.5 L723.4,628 L726,630.2 L712.6,630.2 L714.4,628 L714.4,613.5 L712.2,611 Z" stroke="#1d1d1d" stroke-width="2" fill="#e8e8e8" stroke-linejoin="round" />
<line x1="712.4" y1="610.6" x2="726" y2="610.6" stroke="#1d1d1d" stroke-width="1.6" stroke-linecap="butt" />
<line x1="719" y1="614" x2="719" y2="628" stroke="#777" stroke-width="1.2" stroke-linecap="butt" />
<rect x="706.9" y="630.4" width="23.9" height="14.6" rx="1.5" stroke="#1d1d1d" stroke-width="2.4" fill="#fff" />
<line x1="718.2" y1="631" x2="718.2" y2="644.6" stroke="#1d1d1d" stroke-width="1.8" stroke-linecap="butt" />
<path d="M713.6,645 L713.6,658 C713.6,676 703,686 690,685.8 C681,685.6 675,682 671,677 L672.4,693 C678,696.6 684,697.8 690,697.6 C712,697 725.6,682 725.6,660 L725.6,645 Z" stroke="#1d1d1d" stroke-width="0" fill="#fff" stroke-linejoin="round" />
<path d="M713.6,645 L713.6,658 C713.6,676 703,686 690,685.8 C681,685.6 675,682 671,677" stroke="#1d1d1d" stroke-width="2.4" fill="none" stroke-linejoin="round" />
<path d="M725.6,645 L725.6,660 C725.6,682 712,697 690,697.6 C684,697.8 678,696.6 672.4,693" stroke="#1d1d1d" stroke-width="2.4" fill="none" stroke-linejoin="round" />
<path d="M721.8,647 L721.8,660 C721.6,678 711,691.5 694,693.6" stroke="#bdbdbd" stroke-width="3" fill="none" stroke-linejoin="round" />
<line x1="697.5" y1="486" x2="678.4" y2="566.4" stroke="#1d1d1d" stroke-width="2.3" stroke-linecap="butt" />
<line x1="698.2" y1="518" x2="686.6" y2="567.6" stroke="#1d1d1d" stroke-width="2.3" stroke-linecap="butt" />
<g transform="translate(680,576.1) rotate(14.3)">
<rect x="-11.6" y="-5.9" width="23.2" height="11.8" rx="1.4" stroke="#1d1d1d" stroke-width="2.6" fill="#fff" />
<line x1="0" y1="-5.8" x2="0" y2="5.8" stroke="#1d1d1d" stroke-width="1.9" stroke-linecap="butt" />
</g>
<polygon points="668,581.6 671.6,597.6 682,600 687,586.2" fill="#fff" stroke="#1d1d1d" stroke-width="1.8" stroke-linejoin="round"/>
<polygon points="668,581.6 672,582.6 674.2,598.2 671.6,597.6" fill="#1d1d1d"/>
<polygon points="683.2,585.3 687,586.2 682,600 679.4,599.4" fill="#1d1d1d"/>
<line x1="677.6" y1="584.5" x2="676.9" y2="598.8" stroke="#1d1d1d" stroke-width="1.6" stroke-linecap="butt" />
<line x1="668" y1="582.6" x2="687" y2="587.2" stroke="#1d1d1d" stroke-width="2.6" stroke-linecap="butt" />
<line x1="666.2" y1="586.5" x2="668.4" y2="599" stroke="#1d1d1d" stroke-width="3" stroke-linecap="butt" stroke-dasharray="2.2 1.5"/>
<circle cx="665.3" cy="600.6" r="1.7" fill="#1d1d1d"/>
<polygon points="675,601.2 682.3,603 681.8,606.2 674.5,604.5" fill="#fff" stroke="#1d1d1d" stroke-width="1.5" stroke-linejoin="round"/>
<line x1="674.6" y1="604.6" x2="681.8" y2="606.3" stroke="#1d1d1d" stroke-width="2.2" stroke-linecap="butt" />
<polygon points="676,606.6 681,607.7 679.4,617 676.4,616.5" fill="#666" stroke="#1d1d1d" stroke-width="1.4" stroke-linejoin="round"/>
<line x1="677.6" y1="616.5" x2="672.6" y2="631" stroke="#1d1d1d" stroke-width="2.1" stroke-linecap="butt" />
<path d="M698.3,232 L698.3,206.6 L704,205.3" stroke="#1d1d1d" stroke-width="1.8" fill="none" stroke-linejoin="round" />
<line x1="698.3" y1="206.3" x2="704" y2="205" stroke="#1d1d1d" stroke-width="3" stroke-linecap="butt" />
<path d="M700.5,347 L700.5,241.2 A96,95.6 0 0 1 796.5,145.6 A98,95.6 0 0 1 893.1,225.3 L898.8,246.6 L870.8,254 L866.6,233.9 A69.2,69.2 0 0 0 797.8,172.4 A69.2,69.2 0 0 0 728.6,241.6 L728.6,347 Z" stroke="#1d1d1d" stroke-width="0" fill="#fff" stroke-linejoin="round" />
<path d="M700.5,347 L700.5,241.2 A96,95.6 0 0 1 796.5,145.6 A98,95.6 0 0 1 893.1,225.3 L898.8,246.6 L870.8,254 L866.6,233.9 A69.2,69.2 0 0 0 797.8,172.4 A69.2,69.2 0 0 0 728.6,241.6 L728.6,347" stroke="#1d1d1d" stroke-width="2.7" fill="none" stroke-linejoin="round" />
<line x1="866.4" y1="234.3" x2="893.2" y2="225.2" stroke="#1d1d1d" stroke-width="2.2" stroke-linecap="butt" />
<path d="M724.9,346 L724.9,241.6 A72.9,72.9 0 0 1 797.8,168.7 A72.9,72.9 0 0 1 838,180.8" stroke="#9a9a9a" stroke-width="1.5" fill="none" stroke-linejoin="round" />
<path d="M704.6,226 A92.6,92.6 0 0 1 724,184" stroke="#aaa" stroke-width="1.4" fill="none" stroke-linejoin="round" />
<path d="M790,149 A94,92 0 0 1 888.6,224" stroke="#9a9a9a" stroke-width="1.6" fill="none" stroke-linejoin="round" />
<line x1="889" y1="228" x2="893.2" y2="244" stroke="#aaa" stroke-width="1.3" stroke-linecap="butt" />
<path d="M731.6,230.5 L731.6,281" stroke="#333" stroke-width="3.4" stroke-dasharray="0.9 1.5" fill="none"/>
<rect x="687.3" y="346.8" width="54.9" height="65.4" rx="0" stroke="#1d1d1d" stroke-width="2.8" fill="#fff" />
<rect x="684.9" y="412.2" width="58.6" height="18.4" rx="1.5" stroke="#1d1d1d" stroke-width="2.8" fill="#fff" />
<rect x="699.6" y="401.6" width="29.0" height="10.6" rx="1.5" stroke="#1d1d1d" stroke-width="2.2" fill="#fff" />
<rect x="705.8" y="387.6" width="17.0" height="14.0" rx="0" stroke="#1d1d1d" stroke-width="2.2" fill="#fff" />
<rect x="689.3" y="378" width="54.0" height="9.8" rx="4.9" stroke="#333" stroke-width="1.6" fill="#fff" />
<ellipse cx="693.6" cy="382.9" rx="3.4" ry="4.3" fill="#fff" stroke="#333" stroke-width="1.3"/>
<ellipse cx="739" cy="382.9" rx="3.4" ry="4.3" fill="#fff" stroke="#333" stroke-width="1.3"/>
<line x1="714.6" y1="378.4" x2="714.6" y2="387.4" stroke="#1d1d1d" stroke-width="1.8" stroke-linecap="butt" />
<rect x="744.2" y="383.4" width="30.6" height="20.9" rx="5" stroke="#1d1d1d" stroke-width="2.8" fill="#fff" />
<rect x="742.6" y="391" width="2.4" height="10" rx="0" stroke="#1d1d1d" stroke-width="0" fill="#333" />
<g opacity="0.999">
<text transform="translate(274.54,83.62) scale(0.728,1)" font-size="37.75" >100÷150</text>
<text transform="translate(389.54,83.62) scale(0.728,1)" font-size="37.75" >100÷150</text>
<text transform="translate(776.92,83.9) scale(0.747,1)" font-size="40.72" >144</text>
<text transform="translate(302.31,295.19) scale(0.779,1)" font-size="40.42" >ø46</text>
<text transform="translate(162.65,658.84) scale(0.8,1)" font-size="36.33" >G1/2</text>
<text transform="translate(542.96,658.84) scale(0.795,1)" font-size="36.33" >G1/2</text>
<text transform="translate(207.11,748.94) scale(0.791,1)" font-size="36.2" >M28x1.5</text>
<text transform="translate(194.1,312.49) rotate(-90) scale(0.769,1)" font-size="38.86" >241</text>
<text transform="translate(193.7,521.64) rotate(-90) scale(0.785,1)" font-size="39.72" >104</text>
<text transform="translate(881.0,369.48) rotate(-90) scale(0.791,1)" font-size="40.14" >154</text>
<text transform="translate(858.2,501.8) rotate(-90) scale(0.813,1)" font-size="39.58" >40</text>
<text transform="translate(656.45,584.37) rotate(-90) scale(0.792,1)" font-size="34.56" >G3/4</text>
</g>
</svg>
</body></html>
